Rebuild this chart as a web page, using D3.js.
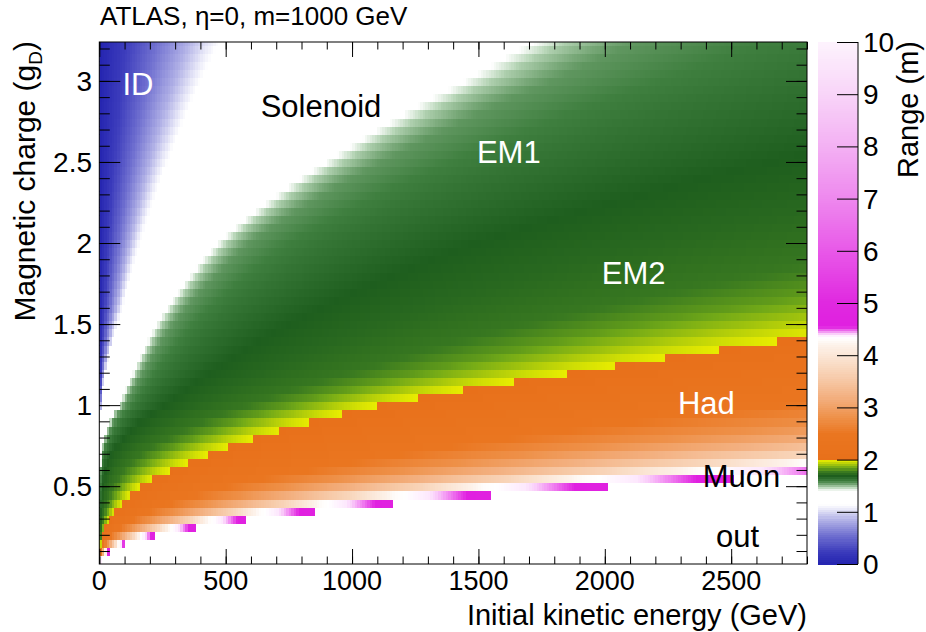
<!DOCTYPE html>
<html>
<head>
<meta charset="utf-8">
<script src="https://cdn.jsdelivr.net/npm/d3@7"></script>
<style>
  body { margin: 0; background: #fff; }
  svg { font-family: "Liberation Sans", Arial, sans-serif; }
</style>
</head>
<body>
<svg id="chart" width="926" height="632"></svg>
<script>
// Contours: energy (GeV) at which a row of given charge
// reaches each detector boundary.
const chargeGrid   = [0.05, 0.1, 0.2, 0.3, 0.4, 0.5, 0.6, 0.7, 0.8, 1.0, 1.2, 1.4, 1.6, 2.0, 2.5, 3.0, 3.3];
const idEdge       = [0.002, 0.005, 0.02, 0.05, 0.1, 0.2, 0.4, 0.8, 1.5, 7, 25, 55, 90, 160, 268, 400, 490];
const solenoidEdge = [0.01, 0.05, 0.2, 0.5, 1.0, 1.8, 3.2, 8, 22, 80, 135, 195, 270, 470, 900, 1450, 1780];
const hadEdge      = [0.4, 2.2, 14, 42, 92, 165, 285, 435, 618, 1110, 1870, 2700, 3700, 6100, 10000, 15000, 18500];
const muonEdge     = [8, 40, 235, 608, 1200, 2055, 3150, 4200, 5400, 8100, 11300, 15000, 19000, 29000, 44000, 62000, 75000];

// range profile inside the calorimeters (t = log position between edges)
const emProfileT  = [0, 0.03, 0.09, 0.25, 0.45, 0.6, 0.75, 0.85, 0.92, 0.97, 1];
const emProfileR  = [1.4, 1.48, 1.56, 1.63, 1.7, 1.73, 1.77, 1.83, 1.9, 1.96, 1.99];
const hadProfileT = [0, 0.45, 0.6, 0.72, 0.82, 0.89, 0.94, 0.975, 1];
const hadProfileR = [2.02, 2.5, 2.8, 3.2, 3.7, 4.3, 4.42, 4.55, 4.62];

// palette
const paletteStops  = [0, 0.25, 0.55, 0.85, 1.05, 1.15, 1.4, 1.47, 1.53, 1.6, 1.7, 1.78, 1.85, 1.92, 1.99,
                       2.0, 2.5, 2.8, 3.2, 3.7, 4.2, 4.33, 4.4, 4.48, 4.55, 5, 6, 7, 8, 9, 10];
const paletteColors = ["#2424b0", "#3c3cbc", "#7070d0", "#b0b0e6", "#e8e8f8", "#ffffff", "#ffffff", "#b8d6b8",
                       "#78a878", "#3f7f3f", "#1e5e1e", "#3a7a20", "#70a818", "#b0cc0a", "#e8ec00",
                       "#e8701a", "#ea7620", "#ee9048", "#f3b080", "#f8d4b8", "#fdf2ea", "#ffffff", "#fde8fd",
                       "#f080f0", "#e020e0", "#e028e0", "#e858e8", "#ee88ee", "#f3b0f3", "#f8d4f8", "#fdf3fd"];

const xMajor = [0, 500, 1000, 1500, 2000, 2500];
const yMajor = [0.5, 1, 1.5, 2, 2.5, 3];
const zMajor = [0, 1, 2, 3, 4, 5, 6, 7, 8, 9, 10];

const regionLabels = [
    { text: "ID", E: 153, g: 2.98, color: "#fff" },
    { text: "Solenoid", E: 877, g: 2.845, color: "#000" },
    { text: "EM1", E: 1620, g: 2.56, color: "#fff" },
    { text: "EM2", E: 2114, g: 1.815, color: "#fff" },
    { text: "Had", E: 2402, g: 1.013, color: "#fff" },
    { text: "Muon", E: 2541, g: 0.56, color: "#000" },
    { text: "out", E: 2525, g: 0.19, color: "#000" }
];

const binE = 10, binG = 0.05, gStart = 0.02, nRows = 65;

const plot = { left: 99.3, right: 807, top: 42, bottom: 564 };
const bar = { left: 818, right: 858 };

const svg = d3.select("#chart");

const x = d3.scaleLinear().domain([0, 2800]).range([plot.left, plot.right]);
const y = d3.scaleLinear().domain([0.02, 3.24]).range([plot.bottom, plot.top]);
const z = d3.scaleLinear().domain([0, 10]).range([plot.bottom, plot.top]);
const color = d3.scaleLinear().domain(paletteStops).range(paletteColors).clamp(true);

const lnG = chargeGrid.map(Math.log);
function edgeAt(arr, g) {
    const lg = Math.log(g);
    let i = d3.bisectRight(lnG, lg) - 1;
    i = Math.max(0, Math.min(lnG.length - 2, i));
    const f = (lg - lnG[i]) / (lnG[i + 1] - lnG[i]);
    return Math.exp(Math.log(arr[i]) + f * (Math.log(arr[i + 1]) - Math.log(arr[i])));
}
const emProfile = d3.scaleLinear().domain(emProfileT).range(emProfileR).clamp(true);
const hadProfile = d3.scaleLinear().domain(hadProfileT).range(hadProfileR).clamp(true);

function rangeAt(E, g) {
    const ea = edgeAt(idEdge, g), eb = edgeAt(solenoidEdge, g);
    const ed = edgeAt(hadEdge, g), ef = edgeAt(muonEdge, g);
    if (E >= ef) return null;
    if (E < ea) return 1.15 * E / ea;
    if (E < eb) return 1.15 + 0.25 * (E - ea) / (eb - ea);
    if (E < ed) return emProfile(Math.log(E / eb) / Math.log(ed / eb));
    return hadProfile(Math.log(E / ed) / Math.log(ef / ed));
}

const cells = [];
for (let j = 0; j < nRows; j++) {
    const g0 = gStart + j * binG;
    for (let i = 0; i < 2800 / binE; i++) {
        const e0 = i * binE;
        const r = rangeAt(e0 + binE / 2, g0 + binG / 2);
        if (r !== null && r <= 10) cells.push({ e0, g0, r });
    }
}

svg.append("defs").append("clipPath").attr("id", "plotClip")
    .append("rect")
    .attr("x", plot.left).attr("y", plot.top)
    .attr("width", plot.right - plot.left).attr("height", plot.bottom - plot.top);

svg.append("g")
    .attr("clip-path", "url(#plotClip)")
    .attr("shape-rendering", "crispEdges")
    .selectAll("rect")
    .data(cells)
    .join("rect")
    .attr("x", d => x(d.e0))
    .attr("y", d => y(d.g0 + binG))
    .attr("width", d => x(d.e0 + binE) - x(d.e0) + 0.4)
    .attr("height", d => y(d.g0) - y(d.g0 + binG) + 0.4)
    .attr("fill", d => color(d.r));

// region labels
svg.append("g")
    .selectAll("text")
    .data(regionLabels)
    .join("text")
    .attr("x", d => x(d.E))
    .attr("y", d => y(d.g))
    .attr("text-anchor", "middle")
    .attr("dominant-baseline", "central")
    .style("font-size", "31px")
    .attr("fill", d => d.color)
    .text(d => d.text);

// axes: ticks drawn inside the frame on all four sides
const xMinor = d3.range(0, 2801, 100);
const yMinor = d3.range(0.1, 3.25, 0.1);

function ticks(axis, scale, values, size, pos) {
    const g = svg.append("g").attr("transform", pos)
        .call(axis(scale).tickValues(values).tickSize(size).tickFormat(""));
    g.select(".domain").remove();
    g.selectAll("line").attr("stroke", "#000");
}
ticks(d3.axisBottom, x, xMinor, -7.5, `translate(0,${plot.bottom})`);
ticks(d3.axisBottom, x, xMajor, -15, `translate(0,${plot.bottom})`);
ticks(d3.axisTop, x, xMinor, -7.5, `translate(0,${plot.top})`);
ticks(d3.axisTop, x, xMajor, -15, `translate(0,${plot.top})`);
ticks(d3.axisLeft, y, yMinor, -10.5, `translate(${plot.left},0)`);
ticks(d3.axisLeft, y, yMajor, -21, `translate(${plot.left},0)`);
ticks(d3.axisRight, y, yMinor, -10.5, `translate(${plot.right},0)`);
ticks(d3.axisRight, y, yMajor, -21, `translate(${plot.right},0)`);

svg.append("rect")
    .attr("x", plot.left).attr("y", plot.top)
    .attr("width", plot.right - plot.left).attr("height", plot.bottom - plot.top)
    .attr("fill", "none").attr("stroke", "#000").attr("stroke-width", 1);

svg.append("g").selectAll("text").data(xMajor).join("text")
    .attr("x", d => x(d)).attr("y", 590)
    .attr("text-anchor", "middle").style("font-size", "27px")
    .text(d => d);

svg.append("g").selectAll("text").data(yMajor).join("text")
    .attr("x", 92).attr("y", d => y(d) + 10)
    .attr("text-anchor", "end").style("font-size", "28px")
    .text(d => d);

// colour bar
const barSteps = d3.range(0, 10, 0.04);
svg.append("g").attr("shape-rendering", "crispEdges")
    .selectAll("rect").data(barSteps).join("rect")
    .attr("x", bar.left).attr("width", bar.right - bar.left)
    .attr("y", d => z(d + 0.04)).attr("height", d => z(d) - z(d + 0.04) + 0.5)
    .attr("fill", d => color(d + 0.02));

const zAxis = svg.append("g").attr("transform", `translate(${bar.right},0)`)
    .call(d3.axisRight(z).tickValues(zMajor).tickSize(-21).tickFormat(""));
zAxis.selectAll("line").attr("stroke", "#000");
zAxis.select(".domain").attr("stroke", "#000").attr("d", `M0,${plot.top}V${plot.bottom}`);

svg.append("g").selectAll("text").data(zMajor).join("text")
    .attr("x", bar.right + 5).attr("y", d => z(d) + 10)
    .attr("text-anchor", "start").style("font-size", "28px")
    .text(d => d);

// titles
svg.append("text")
    .attr("x", 100).attr("y", 25)
    .style("font-size", "26px")
    .text("ATLAS, η=0, m=1000 GeV");

svg.append("text")
    .attr("x", plot.right).attr("y", 625)
    .attr("text-anchor", "end").style("font-size", "29px")
    .text("Initial kinetic energy (GeV)");

const yTitle = svg.append("text")
    .attr("transform", `translate(35,${plot.top - 1}) rotate(-90)`)
    .attr("text-anchor", "end").style("font-size", "30px");
yTitle.append("tspan").text("Magnetic charge (g");
yTitle.append("tspan").attr("dy", 7).style("font-size", "19px").text("D");
yTitle.append("tspan").attr("dy", -7).text(")");

svg.append("text")
    .attr("transform", `translate(918,${plot.top - 1}) rotate(-90)`)
    .attr("text-anchor", "end").style("font-size", "29px")
    .text("Range (m)");
</script>
</body>
</html>
